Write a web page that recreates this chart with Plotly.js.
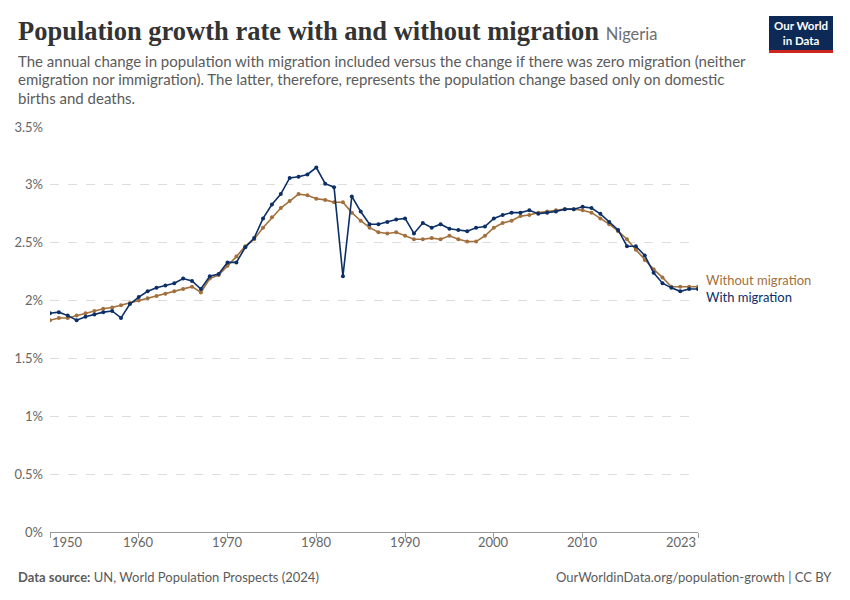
<!DOCTYPE html>
<html>
<head>
<meta charset="utf-8">
<script src="https://cdn.plot.ly/plotly-3.0.1.min.js"></script>
<style>
  html, body { margin: 0; padding: 0; background: #fff; }
  #chart { width: 850px; height: 600px; }
</style>
</head>
<body>
<div id="chart"></div>
<script>
// ---- Data ----
const years = [1950,1951,1952,1953,1954,1955,1956,1957,1958,1959,
  1960,1961,1962,1963,1964,1965,1966,1967,1968,1969,
  1970,1971,1972,1973,1974,1975,1976,1977,1978,1979,
  1980,1981,1982,1983,1984,1985,1986,1987,1988,1989,
  1990,1991,1992,1993,1994,1995,1996,1997,1998,1999,
  2000,2001,2002,2003,2004,2005,2006,2007,2008,2009,
  2010,2011,2012,2013,2014,2015,2016,2017,2018,2019,
  2020,2021,2022,2023];

const withMigration = [1.89,1.90,1.87,1.83,1.86,1.88,1.90,1.91,1.85,1.97,
  2.03,2.08,2.11,2.13,2.15,2.19,2.17,2.10,2.21,2.23,
  2.33,2.33,2.46,2.54,2.71,2.83,2.92,3.06,3.07,3.09,
  3.15,3.01,2.98,2.21,2.90,2.77,2.66,2.66,2.68,2.70,
  2.71,2.58,2.67,2.63,2.66,2.62,2.61,2.60,2.63,2.64,
  2.71,2.74,2.76,2.76,2.78,2.75,2.76,2.77,2.79,2.79,
  2.81,2.80,2.75,2.68,2.61,2.47,2.47,2.39,2.24,2.15,
  2.11,2.08,2.10,2.10];

const withoutMigration = [1.83,1.85,1.85,1.87,1.89,1.91,1.93,1.94,1.96,1.98,
  2.00,2.02,2.04,2.06,2.08,2.10,2.12,2.07,2.19,2.22,
  2.30,2.38,2.47,2.53,2.63,2.72,2.80,2.86,2.92,2.91,
  2.88,2.87,2.85,2.85,2.76,2.69,2.63,2.59,2.58,2.59,
  2.56,2.53,2.53,2.54,2.53,2.56,2.53,2.51,2.51,2.56,
  2.63,2.67,2.69,2.73,2.74,2.76,2.77,2.78,2.79,2.79,
  2.78,2.76,2.71,2.66,2.60,2.53,2.44,2.35,2.27,2.20,
  2.12,2.12,2.12,2.12];

const xTickVals = [1950,1960,1970,1980,1990,2000,2010,2023];
const xTickText = ["1950","1960","1970","1980","1990","2000","2010","2023"];
const yTickVals = [0,0.5,1,1.5,2,2.5,3,3.5];
const yTickText = ["0%","0.5%","1%","1.5%","2%","2.5%","3%","3.5%"];

const seriesNames = ["Without migration","With migration"];

// ---- Styling ----
const W = 850, H = 600;
const M = {l: 50, r: 152, t: 127, b: 68};
const PW = W - M.l - M.r, PH = H - M.t - M.b;
const px = x => (x - M.l) / PW;          // pixel -> paper x
const py = y => (H - M.b - y) / PH;      // pixel -> paper y

const BLUE = '#0b2f66';
const BROWN = '#a2703c';
const FONT = 'Lato, "Open Sans", sans-serif';

const traces = [
  {x: years, y: withoutMigration, name: seriesNames[0], type: 'scatter', mode: 'lines+markers',
   line: {color: BROWN, width: 1.6}, marker: {color: BROWN, size: 4}, hoverinfo: 'skip'},
  {x: years, y: withMigration, name: seriesNames[1], type: 'scatter', mode: 'lines+markers',
   line: {color: BLUE, width: 1.6}, marker: {color: BLUE, size: 4}, hoverinfo: 'skip'}
];

const annotations = [];
// x tick labels (first left-aligned, last right-aligned, like the reference)
xTickVals.forEach((v, i) => {
  annotations.push({
    x: v, xref: 'x', y: py(542), yref: 'paper', text: xTickText[i], showarrow: false,
    xanchor: i === 0 ? 'left' : (i === xTickVals.length - 1 ? 'right' : 'center'),
    yanchor: 'middle', font: {family: FONT, size: 13, color: '#666'}
  });
});
// end-of-line labels
annotations.push({x: px(704), xref: 'paper', y: withoutMigration[withoutMigration.length-1], yref: 'y',
  yshift: 7, text: seriesNames[0], showarrow: false, xanchor: 'left', yanchor: 'middle',
  font: {family: FONT, size: 13, color: BROWN}});
annotations.push({x: px(704), xref: 'paper', y: withMigration[withMigration.length-1], yref: 'y',
  yshift: -8, text: seriesNames[1], showarrow: false, xanchor: 'left', yanchor: 'middle',
  font: {family: FONT, size: 13, color: BLUE}});
// Title
annotations.push({x: px(16), xref: 'paper', y: py(31), yref: 'paper', xanchor: 'left', yanchor: 'middle',
  showarrow: false,
  text: '<b>Population growth rate with and without migration</b> <span style="font-family:Lato;font-size:16.5px;color:#6e6e6e">Nigeria</span>',
  font: {family: '"Liberation Serif", "DejaVu Serif", serif', size: 26.5, color: '#333'}});
// Subtitle
const subtitle = ['The annual change in population with migration included versus the change if there was zero migration (neither',
  'emigration nor immigration). The latter, therefore, represents the population change based only on domestic',
  'births and deaths.'];
subtitle.forEach((line, i) => {
  annotations.push({x: px(16), xref: 'paper', y: py(61 + i * 18.5), yref: 'paper', xanchor: 'left', yanchor: 'middle',
    showarrow: false, text: line, font: {family: FONT, size: 15, color: '#5b5b5b'}});
});
// Footer
annotations.push({x: px(16), xref: 'paper', y: py(577), yref: 'paper', xanchor: 'left', yanchor: 'middle',
  showarrow: false, text: '<b>Data source:</b> UN, World Population Prospects (2024)',
  font: {family: FONT, size: 13, color: '#5b5b5b'}});
annotations.push({x: px(834), xref: 'paper', y: py(577), yref: 'paper', xanchor: 'right', yanchor: 'middle',
  showarrow: false, text: 'OurWorldinData.org/population-growth | CC BY',
  font: {family: FONT, size: 13, color: '#5b5b5b'}});
// Logo text
annotations.push({x: px(801), xref: 'paper', y: py(33), yref: 'paper', xanchor: 'center', yanchor: 'middle',
  showarrow: false, text: '<b>Our World</b><br><b>in Data</b>',
  font: {family: FONT, size: 11.5, color: '#fff'}});

const shapes = [
  {type: 'rect', xref: 'paper', yref: 'paper', x0: px(769), x1: px(833), y0: py(50), y1: py(16),
   fillcolor: '#0c2a55', line: {width: 0}},
  {type: 'rect', xref: 'paper', yref: 'paper', x0: px(769), x1: px(833), y0: py(53), y1: py(50),
   fillcolor: '#ce261e', line: {width: 0}}
];

const layout = {
  width: W, height: H,
  margin: M,
  paper_bgcolor: '#fff', plot_bgcolor: '#fff',
  showlegend: false,
  font: {family: FONT, color: '#666'},
  xaxis: {
    range: [1950, 2023], tickvals: xTickVals, ticktext: xTickText, showticklabels: false,
    ticks: 'outside', ticklen: 5, tickcolor: '#999', tickwidth: 1,
    showline: true, linecolor: '#999', linewidth: 1, showgrid: false, zeroline: false, fixedrange: true
  },
  yaxis: {
    range: [0, 3.5], tickvals: yTickVals, ticktext: yTickText,
    showgrid: true, gridcolor: '#dddddd', griddash: 'dash', gridwidth: 1,
    zeroline: false, showline: false, ticks: '', ticklabelstandoff: 6,
    tickfont: {family: FONT, size: 13, color: '#666'}, fixedrange: true
  },
  annotations: annotations,
  shapes: shapes
};

Plotly.newPlot('chart', traces, layout, {displayModeBar: false, staticPlot: true});
</script>
</body>
</html>
